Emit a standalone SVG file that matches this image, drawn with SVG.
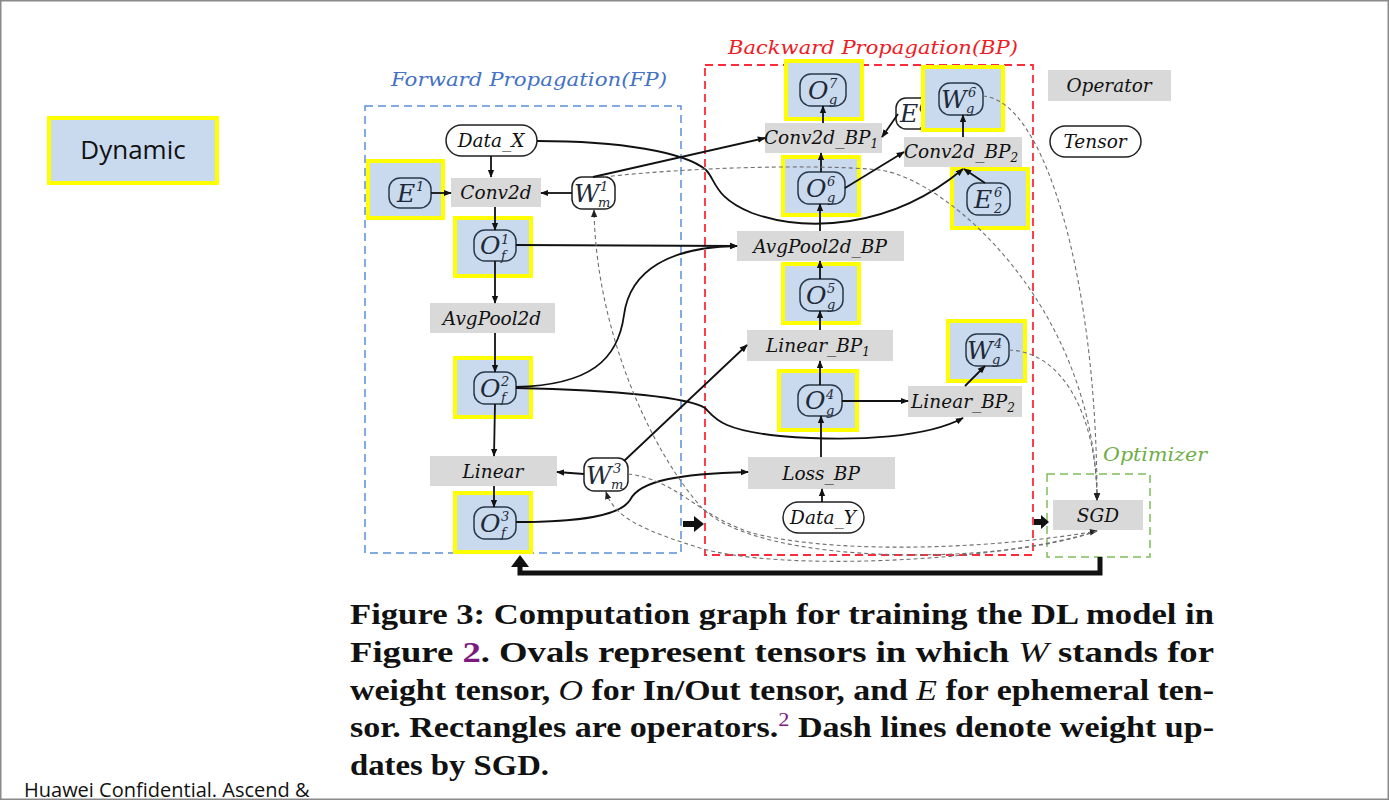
<svg xmlns="http://www.w3.org/2000/svg" width="1390" height="802" viewBox="0 0 1390 802">
  <defs>
    <marker id="ah" viewBox="0 0 10 10" refX="9" refY="5" markerWidth="8" markerHeight="8" markerUnits="userSpaceOnUse" orient="auto">
      <path d="M0,1 L10,5 L0,9 z" fill="#111"/>
    </marker>
    <marker id="ahd" viewBox="0 0 10 10" refX="9" refY="5" markerWidth="8" markerHeight="8" markerUnits="userSpaceOnUse" orient="auto">
      <path d="M0,1 L10,5 L0,9 z" fill="#222"/>
    </marker>
    <style>
      .frame { fill: #fff; stroke: #8a8a8a; stroke-width: 1.5; }
      .dyn { fill: #c9d9ee; stroke: #ffff00; stroke-width: 4; }
      .op { fill: #d9d9d9; }
      .ten { fill: none; stroke: #2b3a4a; stroke-width: 1.5; }
      .tenw { fill: #fff; stroke: #222; stroke-width: 1.5; }
      .lbl { font-family: "DejaVu Serif", "Liberation Serif", serif; font-style: italic; font-size: 18.5px; fill: #111; text-anchor: middle; }
      .m { font-family: "DejaVu Serif", "Liberation Serif", serif; font-style: italic; font-size: 25px; fill: #1e2a38; }
      .s { font-size: 13px; }
      .sb { font-size: 12px; }
      .fpbox { fill: none; stroke: #5b8fd9; stroke-width: 1.5; stroke-dasharray: 8 5; }
      .bpbox { fill: none; stroke: #ff2a3a; stroke-width: 1.8; stroke-dasharray: 8 5; }
      .opbox { fill: none; stroke: #7dbf5a; stroke-width: 1.5; stroke-dasharray: 8 5; }
      .ttl { font-family: "DejaVu Serif", "Liberation Serif", serif; font-style: italic; font-size: 18px; }
      .sol { fill: none; stroke: #111; stroke-width: 1.8; marker-end: url(#ah); }
      .dsh { fill: none; stroke: #6f6f6f; stroke-width: 1.1; stroke-dasharray: 4 3; marker-end: url(#ahd); }
      .cap { font-family: "Liberation Serif", serif; font-weight: bold; font-size: 29px; fill: #111; }
      .it { font-style: italic; font-weight: normal; }
      .pur { fill: #7d1a80; }
    </style>
  </defs>

  <!-- slide frame -->
  <rect class="frame" x="0.75" y="0.75" width="1387.5" height="798.5"/>

  <!-- legend: highlighted tensors -->
  <g id="legend-dynamic">
    <rect class="dyn" x="49" y="118" width="168" height="65"/>
    <text x="133" y="159" font-family="'Open Sans', 'Noto Sans', sans-serif" font-size="26" fill="#111" text-anchor="middle">Dynamic</text>
  </g>

  <!-- phase regions -->
  <g id="region-fp">
    <rect class="fpbox" x="365" y="106" width="316" height="447"/>
    <text class="ttl" x="529" y="86" fill="#4472c4" text-anchor="middle" textLength="276" lengthAdjust="spacingAndGlyphs">Forward Propagation(FP)</text>
  </g>
  <g id="region-bp">
    <rect class="bpbox" x="705" y="65" width="328" height="490"/>
    <text class="ttl" x="873" y="54" fill="#ee1c25" text-anchor="middle" textLength="290" lengthAdjust="spacingAndGlyphs">Backward Propagation(BP)</text>
  </g>
  <g id="region-opt">
    <rect class="opbox" x="1047" y="474" width="103" height="83"/>
    <text class="ttl" x="1103" y="461" fill="#70ad47" textLength="104" lengthAdjust="spacingAndGlyphs">Optimizer</text>
  </g>

  <!-- legend: operator / tensor -->
  <g id="legend-operator">
    <rect class="op" x="1048" y="70" width="123" height="31"/>
    <text class="lbl" x="1109" y="92" font-size="20">Operator</text>
  </g>
  <g id="legend-tensor">
    <rect class="tenw" x="1050" y="126" width="91" height="31" rx="15.5"/>
    <text class="lbl" x="1095" y="148" font-size="20">Tensor</text>
  </g>

  <!-- forward propagation nodes -->
  <g id="data-x">
    <rect class="tenw" x="446" y="125" width="91" height="31" rx="15.5"/>
    <text class="lbl" x="491" y="147" font-size="19">Data_X</text>
  </g>
  <g id="e1">
    <rect class="dyn" x="368" y="161" width="75" height="57"/>
    <rect class="ten" x="389" y="178" width="42" height="30" rx="11"/>
    <text class="m"><tspan x="397" y="202">E</tspan><tspan class="s" x="416" y="191">1</tspan></text>
  </g>
  <g id="conv2d">
    <rect class="op" x="451" y="178" width="90" height="29"/>
    <text class="lbl" x="496" y="199">Conv2d</text>
  </g>
  <g id="wm1">
    <rect class="tenw" x="572" y="177" width="43" height="32" rx="10"/>
    <text class="m"><tspan x="574" y="202">W</tspan><tspan class="s" x="600" y="191">1</tspan><tspan class="s" x="598" y="207">m</tspan></text>
  </g>
  <g id="of1">
    <rect class="dyn" x="455" y="218" width="76" height="58"/>
    <rect class="ten" x="474" y="230" width="42" height="31" rx="11"/>
    <text class="m"><tspan x="480" y="254">O</tspan><tspan class="s" x="501" y="243.5">1</tspan><tspan class="s" x="501" y="259.5">f</tspan></text>
  </g>
  <g id="avgpool2d">
    <rect class="op" x="430" y="303" width="125" height="30"/>
    <text class="lbl" x="492" y="325">AvgPool2d</text>
  </g>
  <g id="of2">
    <rect class="dyn" x="455" y="358" width="76" height="59"/>
    <rect class="ten" x="474" y="372" width="42" height="32" rx="11"/>
    <text class="m"><tspan x="480" y="397">O</tspan><tspan class="s" x="501" y="386">2</tspan><tspan class="s" x="501" y="402">f</tspan></text>
  </g>
  <g id="linear">
    <rect class="op" x="430" y="456" width="127" height="30"/>
    <text class="lbl" x="493" y="478">Linear</text>
  </g>
  <g id="wm3">
    <rect class="tenw" x="584" y="458" width="44" height="33" rx="10"/>
    <text class="m"><tspan x="586" y="484">W</tspan><tspan class="s" x="613" y="472.5">3</tspan><tspan class="s" x="611" y="488.5">m</tspan></text>
  </g>
  <g id="of3">
    <rect class="dyn" x="455" y="493" width="76" height="59"/>
    <rect class="ten" x="474" y="507" width="42" height="32" rx="11"/>
    <text class="m"><tspan x="480" y="532">O</tspan><tspan class="s" x="501" y="521">3</tspan><tspan class="s" x="501" y="537">f</tspan></text>
  </g>

  <!-- backward propagation nodes -->
  <g id="og7">
    <rect class="dyn" x="786" y="61" width="76" height="58"/>
    <rect class="ten" x="800" y="74" width="46" height="32" rx="11"/>
    <text class="m"><tspan x="808" y="99">O</tspan><tspan class="s" x="829" y="88">7</tspan><tspan class="s" x="829" y="104">g</tspan></text>
  </g>
  <g id="e16">
    <rect class="tenw" x="896" y="98" width="44" height="31" rx="10"/>
    <text class="m"><tspan x="900" y="122">E</tspan><tspan class="s" x="919" y="111.5">6</tspan><tspan class="s" x="919" y="127.5">1</tspan></text>
  </g>
  <g id="wg6">
    <rect class="dyn" x="923" y="67" width="80" height="63"/>
    <rect class="ten" x="939" y="83" width="44" height="32" rx="11"/>
    <text class="m"><tspan x="941" y="108">W</tspan><tspan class="s" x="968" y="97">6</tspan><tspan class="s" x="966" y="113">g</tspan></text>
  </g>
  <g id="conv2d-bp1">
    <rect class="op" x="765" y="123" width="117" height="30"/>
    <text class="lbl" x="821" y="144">Conv2d_BP<tspan class="sb" dy="4">1</tspan></text>
  </g>
  <g id="conv2d-bp2">
    <rect class="op" x="904" y="137" width="118" height="30"/>
    <text class="lbl" x="961" y="158">Conv2d_BP<tspan class="sb" dy="4">2</tspan></text>
  </g>
  <g id="og6">
    <rect class="dyn" x="783" y="157" width="76" height="58"/>
    <rect class="ten" x="798" y="172" width="47" height="32" rx="11"/>
    <text class="m"><tspan x="806" y="197">O</tspan><tspan class="s" x="827" y="186">6</tspan><tspan class="s" x="827" y="202">g</tspan></text>
  </g>
  <g id="e26">
    <rect class="dyn" x="952" y="169" width="76" height="59"/>
    <rect class="ten" x="967" y="183" width="43" height="32" rx="11"/>
    <text class="m"><tspan x="974" y="208">E</tspan><tspan class="s" x="994" y="197">6</tspan><tspan class="s" x="994" y="213">2</tspan></text>
  </g>
  <g id="avgpool2d-bp">
    <rect class="op" x="737" y="231" width="167" height="30"/>
    <text class="lbl" x="820" y="253">AvgPool2d_BP</text>
  </g>
  <g id="og5">
    <rect class="dyn" x="783" y="264" width="76" height="59"/>
    <rect class="ten" x="800" y="279" width="43" height="32" rx="11"/>
    <text class="m"><tspan x="806" y="304">O</tspan><tspan class="s" x="827" y="293">5</tspan><tspan class="s" x="827" y="309">g</tspan></text>
  </g>
  <g id="linear-bp1">
    <rect class="op" x="747" y="330" width="146" height="31"/>
    <text class="lbl" x="818" y="352">Linear_BP<tspan class="sb" dy="4">1</tspan></text>
  </g>
  <g id="wg4">
    <rect class="dyn" x="948" y="321" width="77" height="60"/>
    <rect class="ten" x="966" y="334" width="43" height="32" rx="11"/>
    <text class="m"><tspan x="967" y="359">W</tspan><tspan class="s" x="994" y="348">4</tspan><tspan class="s" x="992" y="364">g</tspan></text>
  </g>
  <g id="og4">
    <rect class="dyn" x="779" y="371" width="78" height="59"/>
    <rect class="ten" x="798" y="385" width="44" height="31" rx="11"/>
    <text class="m"><tspan x="805" y="409">O</tspan><tspan class="s" x="826" y="398.5">4</tspan><tspan class="s" x="826" y="414.5">g</tspan></text>
  </g>
  <g id="linear-bp2">
    <rect class="op" x="908" y="386" width="114" height="31"/>
    <text class="lbl" x="963" y="408">Linear_BP<tspan class="sb" dy="4">2</tspan></text>
  </g>
  <g id="loss-bp">
    <rect class="op" x="748" y="457" width="147" height="32"/>
    <text class="lbl" x="821" y="480">Loss_BP</text>
  </g>
  <g id="data-y">
    <rect class="tenw" x="783" y="502" width="81" height="31" rx="15.5"/>
    <text class="lbl" x="823" y="524" font-size="19">Data_Y</text>
  </g>

  <!-- optimizer -->
  <g id="sgd">
    <rect class="op" x="1053" y="500" width="90" height="30"/>
    <text class="lbl" x="1098" y="522">SGD</text>
  </g>

  <!-- connectors -->
  <g id="connectors">
    <!-- forward chain -->
    <path class="sol" d="M491,156 V177"/>
    <path class="sol" d="M431,193 H451"/>
    <path class="sol" d="M572,193 H541"/>
    <path class="sol" d="M495,207 V230"/>
    <path class="sol" d="M495,261 V303"/>
    <path class="sol" d="M495,333 V372"/>
    <path class="sol" d="M495,404 L494,456"/>
    <path class="sol" d="M494,486 V507"/>
    <path class="sol" d="M584,474 L557,472"/>
    <!-- forward to backward -->
    <path class="sol" d="M593,177 L765,138"/>
    <path class="sol" d="M516,245 L737,246"/>
    <path class="sol" d="M516,387 C590,385 618,360 624,315 C630,270 670,247 737,246"/>
    <path class="sol" d="M516,388 C620,390 690,398 705,408 C715,418 720,430 780,436 C860,443 930,436 963,418"/>
    <path class="sol" d="M624,461 L747,345"/>
    <path class="sol" d="M516,522 C580,522 620,516 630,500 C640,480 680,474 748,472"/>
    <path class="sol" d="M537,141 C620,141 685,152 706,170 C716,180 714,198 752,213 C805,232 890,230 963,169"/>
    <!-- backward chain -->
    <path class="sol" d="M821,457 V416"/>
    <path class="sol" d="M822,502 V489"/>
    <path class="sol" d="M820,385 V361"/>
    <path class="sol" d="M842,401 H908"/>
    <path class="sol" d="M965,386 L985,366"/>
    <path class="sol" d="M820,330 V311"/>
    <path class="sol" d="M820,279 V261"/>
    <path class="sol" d="M820,231 V204"/>
    <path class="sol" d="M821,172 V153"/>
    <path class="sol" d="M823,123 V106"/>
    <path class="sol" d="M845,188 L904,152"/>
    <path class="sol" d="M898,114 L882,137"/>
    <path class="sol" d="M963,137 V115"/>
    <path class="sol" d="M985,183 L964,169"/>
    <!-- weight updates -->
    <path class="dsh" d="M983,96 C1045,100 1097,280 1097,500"/>
    <path class="dsh" d="M604,177 C690,167 820,164 880,170 C950,180 1095,310 1097,500"/>
    <path class="dsh" d="M1009,350 C1065,352 1097,420 1097,500"/>
    <path class="dsh" d="M1097,531 C1000,566 760,566 702,508 C650,450 596,330 594,210"/>
    <path class="dsh" d="M628,474 C680,480 700,520 760,535 C850,555 1000,548 1097,531"/>
    <path class="dsh" d="M1097,531 C1000,562 780,572 700,548 C650,532 615,520 606,492"/>
    <!-- phase flow -->
    <path d="M683,521 H694 V516 L704,524 L694,532 V527 H683 Z" fill="#111"/>
    <path d="M1034,519 H1041 V515 L1049,522 L1041,529 V525 H1034 Z" fill="#111"/>
    <path d="M1100,557 V573 H520 V565" fill="none" stroke="#111" stroke-width="5"/>
    <path d="M511,567 L529,567 L520,555 Z" fill="#111"/>
  </g>

  <!-- caption -->
  <g id="caption">
    <text class="cap" x="350" y="624" textLength="864" lengthAdjust="spacingAndGlyphs">Figure 3: Computation graph for training the DL model in</text>
    <text class="cap" x="350" y="662" textLength="864" lengthAdjust="spacingAndGlyphs">Figure <tspan class="pur">2</tspan>. Ovals represent tensors in which <tspan class="it">W</tspan> stands for</text>
    <text class="cap" x="350" y="700" textLength="864" lengthAdjust="spacingAndGlyphs">weight tensor, <tspan class="it">O</tspan> for In/Out tensor, and <tspan class="it">E</tspan> for ephemeral ten-</text>
    <text class="cap" x="350" y="737" textLength="864" lengthAdjust="spacingAndGlyphs">sor. Rectangles are operators.<tspan class="pur" font-size="19" font-weight="normal" dy="-11">2</tspan><tspan dy="11"> Dash lines denote weight up-</tspan></text>
    <text class="cap" x="350" y="775" textLength="199" lengthAdjust="spacingAndGlyphs">dates by SGD.</text>
  </g>

  <text x="24" y="797" font-family="'Open Sans', 'Noto Sans', sans-serif" font-size="20" fill="#111">Huawei Confidential. Ascend &amp;</text>
</svg>
